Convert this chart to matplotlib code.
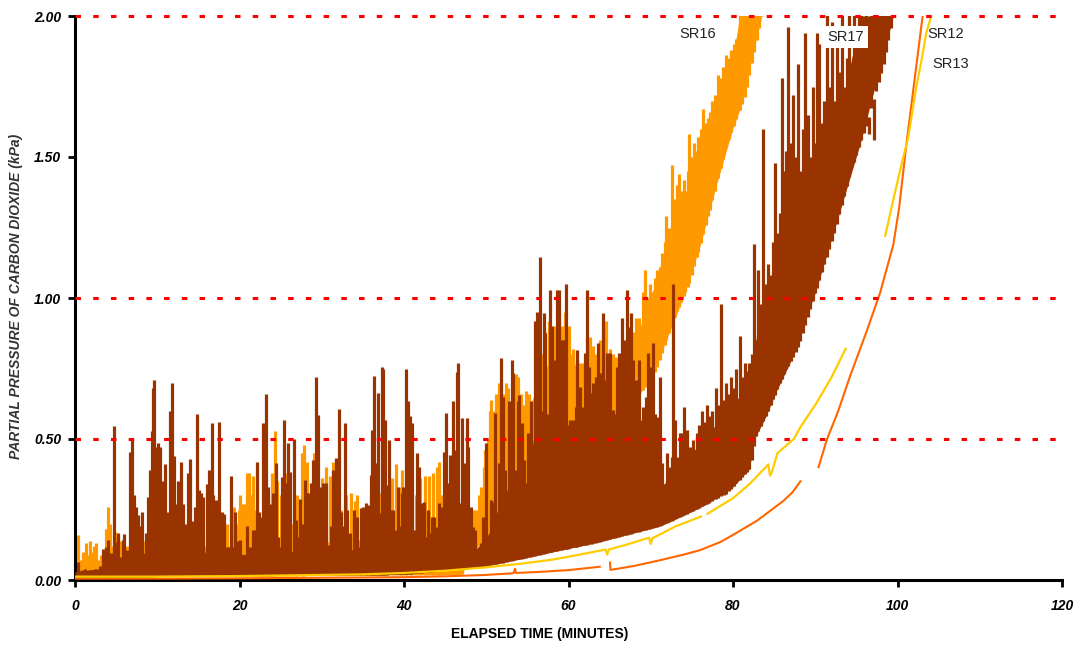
import matplotlib
matplotlib.use("Agg")
import matplotlib.pyplot as plt
import numpy as np

plt.rcParams['font.family'] = ['Liberation Sans', 'DejaVu Sans']

# SR17 (brown): spike tops, solid body top, and lower edge of the trace
sr17_t = [0.41, 0.81, 1.22, 1.82, 2.43, 3.04, 3.44, 3.73, 4.05, 4.38, 4.78, 5.03, 5.27, 5.55, 5.80,
          6.00, 6.28, 6.48, 6.73, 6.97, 7.13, 7.38, 7.62, 7.82, 8.10, 8.35, 8.59, 8.92, 9.16, 9.32,
          9.48, 9.65, 9.89, 10.13, 10.33, 10.54, 10.74, 10.94, 11.27, 11.51, 11.75, 12.00, 12.16,
          12.36, 12.56, 12.89, 13.17, 13.37, 13.70, 13.98, 14.27, 14.59, 14.87, 15.08, 15.32, 15.60,
          16.01, 16.33, 16.62, 16.82, 17.10, 17.30, 17.55, 17.83, 18.12, 18.32, 18.64, 18.97, 19.25,
          19.45, 19.86, 20.06, 20.47, 20.87, 21.28, 21.68, 21.92, 22.17, 22.41, 22.69, 22.90, 23.22,
          23.50, 23.79, 24.11, 24.40, 24.64, 24.92, 25.13, 25.45, 25.61, 25.86, 26.14, 26.42, 26.63,
          26.87, 27.15, 27.36, 27.68, 27.96, 28.17, 28.37, 28.65, 28.98, 29.26, 29.50, 29.79, 30.11,
          30.52, 30.80, 31.08, 31.41, 31.69, 32.06, 32.30, 32.54, 32.83, 33.11, 33.43, 33.72, 33.96,
          34.24, 34.57, 34.77, 35.05, 35.34, 35.66, 35.99, 36.15, 36.35, 36.59, 36.80, 37.08, 37.28,
          37.49, 37.69, 37.89, 38.18, 38.42, 38.70, 39.03, 39.31, 39.51, 39.72, 39.92, 40.20, 40.44,
          40.73, 41.01, 41.25, 41.54, 41.82, 42.15, 42.43, 42.67, 42.88, 43.16, 43.36, 43.69, 43.97,
          44.29, 44.58, 44.86, 45.10, 45.39, 45.59, 45.92, 46.20, 46.40, 46.60, 46.89, 47.09, 47.33,
          47.62, 47.82, 48.10, 48.35, 48.63, 49.04, 49.36, 49.64, 49.97, 50.25, 50.58, 50.86, 51.06,
          51.35, 51.55, 51.75, 51.99, 52.28, 52.48, 52.76, 53.09, 53.29, 53.49, 53.82, 54.02, 54.30,
          54.59, 54.83, 55.12, 55.44, 55.64, 55.90, 56.15, 56.50, 56.70, 57.00, 57.20, 57.40, 57.75,
          58.00, 58.30, 58.60, 58.90, 59.20, 59.45, 59.60, 59.70, 59.90, 60.19, 60.59, 60.87, 61.08,
          61.40, 61.73, 62.01, 62.21, 62.54, 62.82, 63.02, 63.35, 63.63, 63.83, 64.16, 64.44, 64.64,
          65.05, 65.37, 65.66, 65.94, 66.18, 66.47, 66.79, 67.08, 67.36, 67.60, 67.89, 68.21, 68.57,
          68.82, 69.10, 69.43, 69.71, 69.91, 70.24, 70.52, 70.80, 71.13, 71.33, 71.61, 71.94, 72.26,
          72.55, 72.75, 72.95, 73.24, 73.56, 73.76, 74.05, 74.37, 74.78, 75.18, 75.59, 75.90, 76.20,
          76.50, 76.80, 77.10, 77.50, 77.90, 78.20, 78.60, 78.90, 79.20, 79.50, 79.80, 80.10, 80.40,
          80.80, 81.10, 81.40, 81.70, 82.00, 82.30, 82.50, 82.80, 83.10, 83.40, 83.70, 84.00, 84.30,
          84.60, 84.90, 85.10, 85.40, 85.70, 85.90, 86.20, 86.50, 86.70, 87.00, 87.30, 87.60, 87.90,
          88.20, 88.50, 88.80, 89.10, 89.40, 89.70, 90.00, 90.20, 90.50, 90.80, 91.10, 91.40, 91.70,
          92.00, 92.30, 92.60, 92.90, 93.20, 93.50, 93.80, 94.10, 94.40, 94.70, 95.00, 95.30, 95.60,
          95.90, 96.20, 96.50, 96.80, 97.10, 97.40, 97.70, 98.00, 98.30, 98.60, 98.90, 99.20, 99.50]
sr17_v = [0.065, 0.035, 0.04, 0.035, 0.04, 0.05, 0.11, 0.118, 0.142, 0.094, 0.546, 0.136, 0.165, 0.083, 0.142,
          0.163, 0.106, 0.07, 0.455, 0.50, 0.30, 0.26, 0.23, 0.19, 0.24, 0.07, 0.165, 0.295, 0.39, 0.53,
          0.68, 0.71, 0.47, 0.485, 0.47, 0.13, 0.35, 0.41, 0.24, 0.60, 0.70, 0.44, 0.27,
          0.165, 0.35, 0.42, 0.27, 0.20, 0.38, 0.43, 0.21, 0.26, 0.59, 0.32, 0.31, 0.295,
          0.34, 0.39, 0.556, 0.30, 0.284, 0.25, 0.562, 0.24, 0.234, 0.118, 0.118, 0.37, 0.118,
          0.24, 0.14, 0.142, 0.07, 0.19, 0.118, 0.177, 0.177, 0.42, 0.24, 0.225, 0.556, 0.658,
          0.33, 0.27, 0.307, 0.414, 0.154, 0.118, 0.367, 0.567, 0.343, 0.485, 0.384, 0.095, 0.50,
          0.213, 0.154, 0.289, 0.20, 0.355, 0.307, 0.307, 0.343, 0.426, 0.719, 0.585, 0.331, 0.343,
          0.343, 0.124, 0.19, 0.39, 0.431, 0.605, 0.242, 0.19, 0.556, 0.248, 0.165, 0.095, 0.248,
          0.225, 0.118, 0.254, 0.26, 0.272, 0.266, 0.372, 0.532, 0.723, 0.414, 0.662, 0.236, 0.754,
          0.75, 0.567, 0.337, 0.496, 0.248, 0.248, 0.177, 0.331, 0.19, 0.307, 0.331, 0.75, 0.633,
          0.58, 0.556, 0.177, 0.449, 0.402, 0.272, 0.278, 0.154, 0.248, 0.165, 0.225, 0.225, 0.189,
          0.272, 0.26, 0.455, 0.591, 0.343, 0.443, 0.633, 0.461, 0.739, 0.768, 0.272, 0.573, 0.414,
          0.573, 0.473, 0.26, 0.189, 0.177, 0.095, 0.13, 0.225, 0.485, 0.154, 0.284, 0.278, 0.591,
          0.242, 0.414, 0.786, 0.65, 0.39, 0.32, 0.633, 0.78, 0.733, 0.39, 0.633, 0.656, 0.556,
          0.426, 0.242, 0.52, 0.633, 0.39, 0.92, 0.95, 1.145, 0.60, 0.946, 0.875, 0.59, 1.03,
          0.90, 0.78, 1.03, 1.03, 0.85, 0.85, 0.56, 1.05, 0.55, 0.567, 0.567, 0.615, 0.816,
          0.686, 0.615, 0.804, 1.03, 0.757, 0.662, 0.697, 0.721, 0.839, 0.733, 0.946, 0.709, 0.804,
          0.804, 0.603, 0.59, 0.757, 0.804, 0.928, 0.851, 1.03, 0.898, 0.946, 0.78, 0.709, 0.78,
          0.567, 0.615, 0.65, 0.804, 0.757, 0.839, 0.59, 0.579, 0.721, 0.414, 0.307, 0.449, 0.402,
          0.437, 1.05, 0.567, 0.437, 0.52, 0.52, 0.615, 0.532, 0.473, 0.496, 0.52, 0.55, 0.60,
          0.56, 0.62, 0.58, 0.60, 0.68, 0.62, 0.98, 0.64, 0.70, 0.66, 0.72, 0.68, 0.75,
          0.865, 0.72, 0.77, 0.74, 0.77, 0.80, 1.19, 0.85, 1.10, 0.98, 1.60, 1.05, 1.12,
          1.08, 1.20, 1.48, 1.23, 1.30, 1.78, 1.45, 1.52, 1.96, 1.55, 1.72, 1.50, 1.83,
          1.45, 1.60, 1.94, 1.65, 1.50, 1.75, 1.55, 1.94, 1.90, 1.62, 1.70, 2.05, 1.75,
          1.98, 1.70, 1.95, 1.80, 2.05, 1.75, 1.85, 2.05, 1.64, 2.05, 1.90, 2.05, 2.05,
          1.77, 2.05, 1.58, 2.05, 1.56, 2.05, 2.05, 2.05, 2.05, 2.05, 2.05, 2.05, 2.05]
sr17_body_t = [0, 3, 4, 7, 10, 12, 15, 20, 25, 30, 35, 40, 45, 47, 48.5, 50, 52, 55, 56, 58, 60, 62, 64,
               66, 68, 70, 71.2, 72.3, 73, 75, 77, 80, 82, 82.6, 83, 84, 85.3, 87, 90, 93, 95.5, 99.5]
sr17_body_v = [0.03, 0.04, 0.07, 0.09, 0.10, 0.10, 0.10, 0.09, 0.10, 0.10, 0.11, 0.12, 0.13, 0.13, 0.10, 0.15,
               0.25, 0.35, 0.55, 0.60, 0.52, 0.58, 0.62, 0.57, 0.57, 0.52, 0.33, 0.36, 0.43, 0.45, 0.52,
               0.62, 0.70, 0.78, 0.92, 0.98, 1.15, 1.35, 1.45, 1.65, 2.0, 2.0]
sr17_floor_t = [0, 40, 50, 55, 59, 63, 67, 71, 74.8, 79.2, 82.2, 82.6, 84, 86, 88, 89.8, 92.2, 94.2, 96.3, 98.3, 99.5]
sr17_floor_v = [0.01, 0.02, 0.05, 0.08, 0.106, 0.13, 0.16, 0.19, 0.24, 0.305, 0.40, 0.50, 0.58, 0.72, 0.83, 1.0, 1.22, 1.44, 1.62, 1.83, 2.0]

# SR16 (orange): spike tops, body top and lower edge
sr16_t = [0.1, 0.4, 0.7, 1.0, 1.3, 1.5, 1.8, 2.1, 2.3, 2.6, 2.9, 3.2, 3.5, 3.8, 4.0, 4.2, 4.5, 4.9, 5.2,
          5.6, 6.0, 6.5, 7.0, 7.5, 8.0, 8.4, 9.0, 10.0, 11.0, 12.0, 13.0, 14.0, 15.0, 16.0, 17.0, 17.5,
          18.0, 18.5, 19.0, 19.3, 19.6, 19.9, 20.1, 20.4, 20.7, 20.9, 21.1, 21.4, 21.7, 22.0, 22.5,
          23.0, 23.5, 24.0, 24.3, 24.6, 25.0, 25.5, 26.0, 26.5, 27.0, 27.6, 27.9, 28.2, 28.6, 29.0,
          29.5, 30.0, 30.5, 31.0, 31.4, 31.8, 32.3, 33.0, 33.5, 34.0, 34.3, 34.8, 35.5, 36.0, 36.5,
          37.1, 37.6, 38.0, 38.5, 39.0, 39.5, 39.8, 40.3, 40.8, 41.5, 42.0, 42.5, 43.0, 43.5, 44.0,
          44.3, 44.6, 45.0, 45.5, 46.0, 46.5, 47.0, 47.5, 48.0, 48.5, 48.8, 49.1, 49.4, 49.7, 49.9,
          50.2, 50.4, 50.6, 50.9, 51.2, 51.5, 51.8, 52.1, 52.4, 52.7, 53.0, 53.3, 53.6, 53.9, 54.2,
          54.5, 54.8, 55.2, 55.6, 56.0, 56.4, 56.8, 57.2, 57.6, 58.0, 58.4, 58.8, 59.2, 59.6, 60.0,
          60.3, 60.6, 61.0, 61.4, 61.8, 62.2, 62.6, 63.0, 63.4, 63.8, 64.2, 64.6, 65.0, 65.4, 65.8,
          66.2, 66.6, 67.0, 67.4, 67.8, 68.2, 68.6, 69.0, 69.3, 69.6, 69.9, 70.2, 70.5, 70.8, 71.1,
          71.4, 71.7, 71.9, 72.2, 72.6, 72.9, 73.2, 73.4, 73.7, 74.0, 74.2, 74.5, 74.7, 75.0, 75.3,
          75.6, 75.8, 76.1, 76.4, 76.7, 77.0, 77.2, 77.5, 77.8, 78.2, 78.5, 78.8, 79.2, 79.5, 79.8,
          80.1, 80.4, 80.8, 81.1, 81.4, 81.7, 82.0, 82.3, 82.6, 82.9, 83.2, 83.5]
sr16_v = [0.04, 0.16, 0.07, 0.10, 0.13, 0.09, 0.14, 0.10, 0.12, 0.13, 0.07, 0.09, 0.06, 0.18, 0.26, 0.20, 0.12, 0.17, 0.16,
          0.14, 0.10, 0.08, 0.12, 0.09, 0.11, 0.14, 0.10, 0.12, 0.12, 0.12, 0.12, 0.14, 0.14, 0.15, 0.26, 0.18,
          0.16, 0.20, 0.22, 0.26, 0.20, 0.25, 0.30, 0.27, 0.27, 0.38, 0.38, 0.30, 0.37, 0.25, 0.22,
          0.25, 0.30, 0.38, 0.53, 0.35, 0.30, 0.38, 0.30, 0.20, 0.30, 0.45, 0.48, 0.42, 0.30, 0.45,
          0.30, 0.36, 0.40, 0.37, 0.42, 0.30, 0.25, 0.30, 0.31, 0.28, 0.30, 0.25, 0.25, 0.30, 0.25,
          0.31, 0.25, 0.30, 0.36, 0.41, 0.33, 0.39, 0.30, 0.30, 0.30, 0.36, 0.37, 0.37, 0.38, 0.40,
          0.42, 0.30, 0.30, 0.30, 0.25, 0.20, 0.20, 0.22, 0.25, 0.25, 0.25, 0.30, 0.33, 0.40, 0.46,
          0.50, 0.60, 0.64, 0.60, 0.66, 0.70, 0.68, 0.66, 0.70, 0.68, 0.62, 0.68, 0.73, 0.72, 0.66,
          0.62, 0.67, 0.66, 0.60, 0.85, 0.90, 0.80, 0.88, 0.92, 0.86, 0.90, 0.95, 0.90, 0.95, 0.90,
          0.80, 0.82, 0.78, 0.77, 0.77, 0.86, 0.86, 0.83, 0.80, 0.85, 0.88, 0.92, 0.82, 0.80, 0.79,
          0.80, 0.82, 0.84, 0.82, 0.88, 0.93, 0.93, 1.02, 1.10, 1.00, 1.05, 1.02, 1.07, 1.10, 1.11,
          1.16, 1.20, 1.29, 1.25, 1.47, 1.35, 1.40, 1.44, 1.38, 1.42, 1.38, 1.45, 1.58, 1.50, 1.55,
          1.52, 1.57, 1.60, 1.67, 1.62, 1.64, 1.66, 1.70, 1.72, 1.79, 1.78, 1.82, 1.86, 1.85, 1.88,
          1.90, 1.92, 2.05, 2.05, 2.05, 2.05, 2.05, 2.05, 2.05, 2.05, 2.05, 2.05]
sr16_body_t = [0, 3.5, 4, 20, 40, 47, 49, 50.5, 52, 55, 58, 62, 66, 68.5, 70, 72, 74, 76, 78, 80, 80.8, 83.5]
sr16_body_v = [0.06, 0.06, 0.12, 0.12, 0.15, 0.15, 0.20, 0.50, 0.60, 0.60, 0.80, 0.75, 0.78, 0.88, 1.00, 1.20,
               1.35, 1.50, 1.70, 1.85, 2.0, 2.0]
sr16_floor_t = [0, 47, 49.2, 55, 60, 66, 68.7, 70.7, 72.7, 74.8, 77, 79.2, 81.5, 83.5]
sr16_floor_v = [0.01, 0.02, 0.13, 0.20, 0.40, 0.58, 0.66, 0.745, 0.92, 1.06, 1.29, 1.54, 1.72, 2.0]

# SR12 and SR13: smooth traces with breaks (nan)
sr12_t = [0, 10, 20, 30, 40, 45, 50, 53.3, 53.5, 53.6, 56, 60, 63.8, np.nan,
          65.05, 65.1, 66, 68, 71.1, 74, 76, 78.5, 80, 82.9, 84.1, 86.1, 87.2, 88.2, np.nan,
          90.4, 91.4, 92.8, 94.2, 96.3, 97.9, 99.5, 100.2, 101.1, 102.1, 103.1]
sr12_v = [0.005, 0.005, 0.006, 0.008, 0.01, 0.013, 0.018, 0.024, 0.04, 0.025, 0.028, 0.035, 0.047, np.nan,
          0.062, 0.036, 0.04, 0.05, 0.07, 0.09, 0.106, 0.135, 0.16, 0.21, 0.236, 0.28, 0.31, 0.35, np.nan,
          0.40, 0.497, 0.60, 0.72, 0.886, 1.02, 1.19, 1.32, 1.55, 1.78, 2.01]
sr13_t = [0, 10, 20, 30, 35, 40, 45, 50, 54, 58, 61, 64.5, 64.7, 64.9, 67, 69.8, 70, 70.2, 73, 76.1, np.nan,
          76.9, 80, 82, 84.3, 84.5, 84.7, 85.4, 87.4, 88.15, 90.2, 92, 93.7, np.nan,
          98.5, 99.5, 100.3, 101.3, 102.3, 102.9, 103.5, 104.1]
sr13_v = [0.012, 0.012, 0.014, 0.018, 0.02, 0.025, 0.033, 0.045, 0.057, 0.072, 0.088, 0.108, 0.09, 0.108, 0.125, 0.15, 0.128, 0.148, 0.19, 0.225, np.nan,
          0.235, 0.29, 0.34, 0.41, 0.37, 0.38, 0.45, 0.50, 0.54, 0.63, 0.72, 0.82, np.nan,
          1.22, 1.35, 1.45, 1.57, 1.75, 1.84, 1.94, 2.0]

labels = ["SR16", "SR17", "SR12", "SR13"]
grid_levels = [0.5, 1.0, 2.0]

fig = plt.figure(figsize=(10.8, 6.45), dpi=100)
ax = fig.add_axes([75 / 1080, 65 / 645, 987 / 1080, 564 / 645])


def spiky(ax, t, v, body_t, body_v, floor_t, floor_v, color, z):
    t = np.array(t)
    bt = np.array(body_t)
    ax.fill_between(bt, np.interp(bt, floor_t, floor_v), body_v, color=color, lw=0, zorder=z)
    ax.vlines(t, np.interp(t, floor_t, floor_v), v, color=color, lw=2.3, zorder=z)


spiky(ax, sr16_t, sr16_v, sr16_body_t, sr16_body_v, sr16_floor_t, sr16_floor_v, "#FF9900", 2)
spiky(ax, sr17_t, sr17_v, sr17_body_t, sr17_body_v, sr17_floor_t, sr17_floor_v, "#993300", 3)
ax.plot(sr12_t, sr12_v, color="#FF6600", lw=1.5, zorder=4)
ax.plot(sr13_t, sr13_v, color="#FFCC00", lw=1.6, zorder=4)

for g in grid_levels:
    ax.axhline(g, color="#FF0000", lw=2.2, linestyle=(0, (1.8, 4)), zorder=5, clip_on=False)

ax.text(75.7, 1.936, labels[0], fontsize=10.5, ha="center", va="center", color="#222222")
ax.text(93.7, 1.926, labels[1], fontsize=10.5, ha="center", va="center", color="#222222",
        bbox=dict(facecolor="white", edgecolor="none", pad=3), zorder=6)
ax.text(103.6, 1.936, labels[2], fontsize=10.5, ha="left", va="center", color="#222222")
ax.text(104.2, 1.83, labels[3], fontsize=10.5, ha="left", va="center", color="#222222")

ax.set_xlim(0, 120)
ax.set_ylim(0, 2)
ax.set_xticks([0, 20, 40, 60, 80, 100, 120])
ax.set_yticks([0, 0.5, 1.0, 1.5, 2.0])
ax.set_yticklabels(["0.00", "0.50", "1.00", "1.50", "2.00"])
for lab in ax.get_xticklabels() + ax.get_yticklabels():
    lab.set_fontweight("bold")
    lab.set_fontstyle("italic")
    lab.set_fontsize(10)
ax.tick_params(axis="x", length=5, width=2, pad=9)
ax.tick_params(axis="y", length=5, width=2, pad=5)
for s in ["top", "right"]:
    ax.spines[s].set_visible(False)
for s in ["left", "bottom"]:
    ax.spines[s].set_linewidth(2.2)

fig.text(540 / 1080, 1 - 634 / 645, "ELAPSED TIME (MINUTES)", fontsize=10, fontweight="bold",
         ha="center", va="center")
fig.text(16 / 1080, 1 - 296 / 645, "PARTIAL PRESSURE OF CARBON DIOXIDE (kPa)", fontsize=10,
         fontweight="bold", fontstyle="italic", rotation=90, ha="center", va="center", color="#333333")

fig.savefig("out.png", dpi=100)
